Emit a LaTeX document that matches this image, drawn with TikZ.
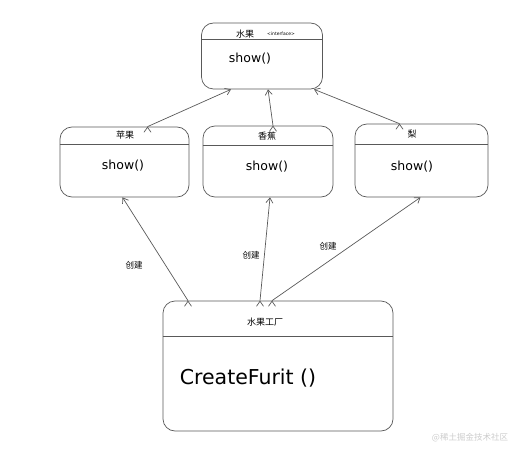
\documentclass[tikz,border=0pt]{standalone}
\usepackage{fontspec}
\setmainfont{DejaVu Sans}
\newfontfamily\cjk{Noto Sans CJK SC}
\usetikzlibrary{arrows.meta}

\begin{document}
\begin{tikzpicture}[x=1pt, y=-1pt, line width=0.7pt,
    box/.style = {draw, gray!70!black, rounded corners=12pt, inner sep=0pt},
    title/.style = {font=\cjk\fontsize{9}{10}\selectfont},
    method/.style = {font=\fontsize{12.5}{15}\selectfont},
    arr/.style = {draw, gray!70!black, -{Straight Barb[length=5pt, width=7pt]}},
    lbl/.style = {font=\cjk\fontsize{8.5}{9}\selectfont}]
    \useasboundingbox (0,0) rectangle (529,449);

    % boxes
    \node[box, minimum width=121pt, minimum height=66pt] (fruit) at (262,56) {};
    \node[box, minimum width=129pt, minimum height=70pt] (apple) at (124.5,162) {};
    \node[box, minimum width=130pt, minimum height=71pt] (banana) at (268,161.5) {};
    \node[box, minimum width=133pt, minimum height=73pt] (pear) at (421.5,160.5) {};
    \node[box, minimum width=230pt, minimum height=130pt] (factory) at (278,366) {};

    % dividers
    \draw[gray!70!black] (fruit.west |- 0,39) -- (fruit.east |- 0,39);
    \draw[gray!70!black] (apple.west |- 0,144) -- (apple.east |- 0,144);
    \draw[gray!70!black] (banana.west |- 0,145) -- (banana.east |- 0,145);
    \draw[gray!70!black] (pear.west |- 0,144) -- (pear.east |- 0,144);
    \draw[gray!70!black] (factory.west |- 0,336) -- (factory.east |- 0,336);

    % titles
    \node[title] (fruitT) at (245,34) {水果};
    \node[font=\fontsize{4.5}{5}\selectfont] (fruitI) at (281,34) {<interface>};
    \node[title] (appleT) at (125,135) {苹果};
    \node[title] (bananaT) at (267,136) {香蕉};
    \node[title] (pearT) at (412,134) {梨};
    \node[title] (factoryT) at (265,322) {水果工厂};

    % methods
    \node[method] (fruitM) at (250,59) {show()};
    \node[method] (appleM) at (123,166) {show()};
    \node[method] (bananaM) at (267,167) {show()};
    \node[method] (pearM) at (412,167) {show()};
    \node[font=\fontsize{20.5}{24}\selectfont] (factoryM) at (248,378) {CreateFurit ()};

    % inheritance
    \path[arr] ([xshift=23pt]apple.north) edge ([xshift=-31pt]fruit.south);
    \path[arr] ([xshift=5pt]banana.north) edge ([xshift=6pt]fruit.south);
    \path[arr] ([xshift=-22pt]pear.north) edge ([xshift=52pt]fruit.south);

    % creation
    \path[arr] ([xshift=-90pt]factory.north) edge ([xshift=-2pt]apple.south);
    \path[arr] ([xshift=-18pt]factory.north) edge ([xshift=2pt]banana.south);
    \path[arr] ([xshift=-6pt]factory.north) edge ([xshift=-1pt]pear.south);
    \node[lbl] (mk1) at (134,265) {创建};
    \node[lbl] (mk2) at (251,255) {创建};
    \node[lbl] (mk3) at (328,246) {创建};

    \node[font=\cjk\fontsize{8.5}{9}\selectfont, gray!40] (mark) at (470,438) {@稀土掘金技术社区};
\end{tikzpicture}
\end{document}
